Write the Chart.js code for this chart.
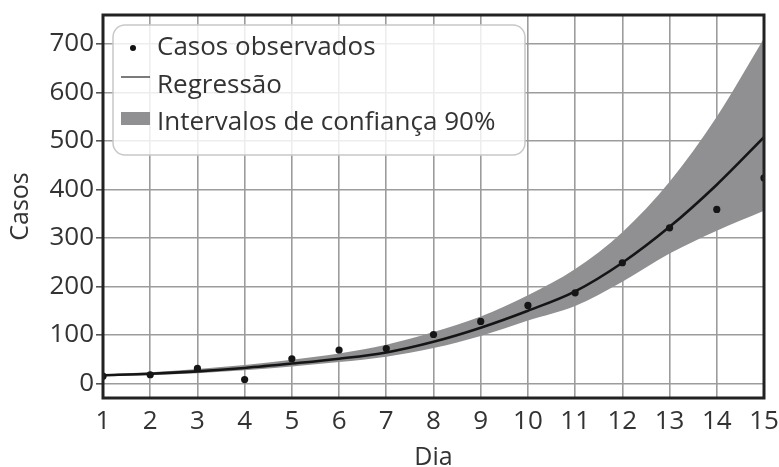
<!DOCTYPE html>
<html>
<head>
<meta charset="utf-8">
<script src="https://cdn.jsdelivr.net/npm/chart.js@4/dist/chart.umd.min.js"></script>
<style>
  html, body { margin: 0; padding: 0; background: #ffffff; }
  #wrap { width: 779px; height: 467px; position: relative; }
  canvas { display: block; }
</style>
</head>
<body>
<div id="wrap"><canvas id="grafico" width="779" height="467"></canvas></div>
<script>
// Dias da série
const dias = [1, 2, 3, 4, 5, 6, 7, 8, 9, 10, 11, 12, 13, 14, 15];
// Casos observados por dia
const casosObservados = [15, 18, 31, 8, 51, 69, 72, 101, 128, 161, 187, 249, 321, 359, 424];
// Curva de regressão (exponencial ajustada)
const regressao = [17, 20, 25, 32, 41, 51, 64, 86, 115, 150, 190, 249, 323, 410, 508];
// Limites do intervalo de confiança de 90%
const icSuperior = [19, 23, 30, 38, 49, 62, 80, 106, 138, 182, 236, 312, 416, 550, 712];
const icInferior = [15, 17, 21, 27, 35, 44, 55, 73, 98, 130, 160, 210, 268, 315, 356];
// Marcas dos eixos
const yTicks = [0, 100, 200, 300, 400, 500, 600, 700];
const xTicks = dias;

const rotulos = {
  observados: 'Casos observados',
  regressao: 'Regressão',
  intervalo: 'Intervalos de confiança 90%'
};

const FONTE = '"Open Sans", "DejaVu Sans", sans-serif';
const COR_TEXTO = '#333333';
const COR_FAIXA = '#909093';
const COR_GRADE = '#9c9c9c';

const pares = (ys) => dias.map((d, i) => ({ x: d, y: ys[i] }));

// Moldura da área de plotagem
const moldura = {
  id: 'moldura',
  afterDatasetsDraw(chart) {
    const { ctx, chartArea: a } = chart;
    ctx.save();
    ctx.strokeStyle = '#222222';
    ctx.lineWidth = 3;
    ctx.strokeRect(a.left, a.top, a.right - a.left, a.bottom - a.top);
    ctx.restore();
  }
};

// Legenda dentro da área de plotagem, com caixa arredondada
const legendaInterna = {
  id: 'legendaInterna',
  afterDraw(chart) {
    const { ctx, chartArea: a } = chart;
    const x0 = a.left + 10, y0 = a.top + 10, w = 412, h = 130, r = 12;
    ctx.save();
    ctx.beginPath();
    ctx.roundRect(x0, y0, w, h, r);
    ctx.fillStyle = 'rgba(255,255,255,0.82)';
    ctx.fill();
    ctx.strokeStyle = '#c8c8c8';
    ctx.lineWidth = 1.5;
    ctx.stroke();

    ctx.font = '26px ' + FONTE;
    ctx.fillStyle = COR_TEXTO;
    ctx.textBaseline = 'middle';
    ctx.textAlign = 'left';
    const tx = x0 + 44;

    // Casos observados
    let cy = y0 + 23;
    ctx.beginPath();
    ctx.arc(x0 + 20, cy, 3, 0, Math.PI * 2);
    ctx.fillStyle = '#111111';
    ctx.fill();
    ctx.fillStyle = COR_TEXTO;
    ctx.fillText(rotulos.observados, tx, cy);

    // Regressão
    cy = y0 + 61;
    ctx.beginPath();
    ctx.moveTo(x0 + 8, y0 + 52);
    ctx.lineTo(x0 + 37, y0 + 52);
    ctx.strokeStyle = '#333333';
    ctx.lineWidth = 1.3;
    ctx.stroke();
    ctx.fillText(rotulos.regressao, tx, cy);

    // Intervalos de confiança
    cy = y0 + 98;
    ctx.fillStyle = COR_FAIXA;
    ctx.fillRect(x0 + 8, y0 + 87, 29, 13);
    ctx.fillStyle = COR_TEXTO;
    ctx.fillText(rotulos.intervalo, tx, cy);
    ctx.restore();
  }
};

new Chart(document.getElementById('grafico'), {
  type: 'line',
  data: {
    datasets: [
      {
        label: rotulos.intervalo,
        data: pares(icSuperior),
        borderWidth: 0,
        pointRadius: 0,
        backgroundColor: COR_FAIXA,
        fill: '+1',
        cubicInterpolationMode: 'monotone',
        order: 3
      },
      {
        label: 'limite inferior',
        data: pares(icInferior),
        borderWidth: 0,
        pointRadius: 0,
        backgroundColor: COR_FAIXA,
        fill: false,
        cubicInterpolationMode: 'monotone',
        order: 4
      },
      {
        label: rotulos.regressao,
        data: pares(regressao),
        borderColor: '#151515',
        borderWidth: 2.6,
        pointRadius: 0,
        fill: false,
        cubicInterpolationMode: 'monotone',
        order: 1
      },
      {
        label: rotulos.observados,
        data: pares(casosObservados),
        showLine: false,
        pointRadius: 3.6,
        pointBackgroundColor: '#151515',
        pointBorderWidth: 0,
        order: 0
      }
    ]
  },
  options: {
    responsive: false,
    animation: false,
    devicePixelRatio: 1,
    layout: { padding: { top: 15, right: 15, left: 0, bottom: 0 } },
    plugins: {
      legend: { display: false },
      tooltip: { enabled: false },
      filler: { propagate: false }
    },
    scales: {
      x: {
        type: 'linear',
        min: 1,
        max: 15,
        afterBuildTicks: (s) => { s.ticks = xTicks.map(v => ({ value: v })); },
        afterFit: (s) => { s.height = 69; s.paddingLeft = 0; s.paddingRight = 0; },
        grid: { color: COR_GRADE, lineWidth: 1.6, drawTicks: false },
        border: { display: false },
        ticks: {
          color: COR_TEXTO,
          font: { family: FONTE, size: 26 },
          padding: 8,
          maxRotation: 0,
          autoSkip: false
        },
        title: {
          display: true,
          text: 'Dia',
          color: COR_TEXTO,
          font: { family: FONTE, size: 25 },
          padding: { top: 0, bottom: -6 }
        }
      },
      y: {
        type: 'linear',
        min: -30,
        max: 760,
        afterBuildTicks: (s) => { s.ticks = yTicks.map(v => ({ value: v })); },
        afterFit: (s) => { s.width = 103; s.paddingTop = 0; s.paddingBottom = 0; },
        grid: { color: COR_GRADE, lineWidth: 1.6, drawTicks: true, tickLength: 7, tickColor: '#555555' },
        border: { display: false },
        ticks: {
          color: COR_TEXTO,
          font: { family: FONTE, size: 26 },
          padding: 2
        },
        title: {
          display: true,
          text: 'Casos',
          color: COR_TEXTO,
          font: { family: FONTE, size: 25 },
          padding: { top: 6, bottom: 0 }
        }
      }
    }
  },
  plugins: [moldura, legendaInterna]
});
</script>
</body>
</html>
